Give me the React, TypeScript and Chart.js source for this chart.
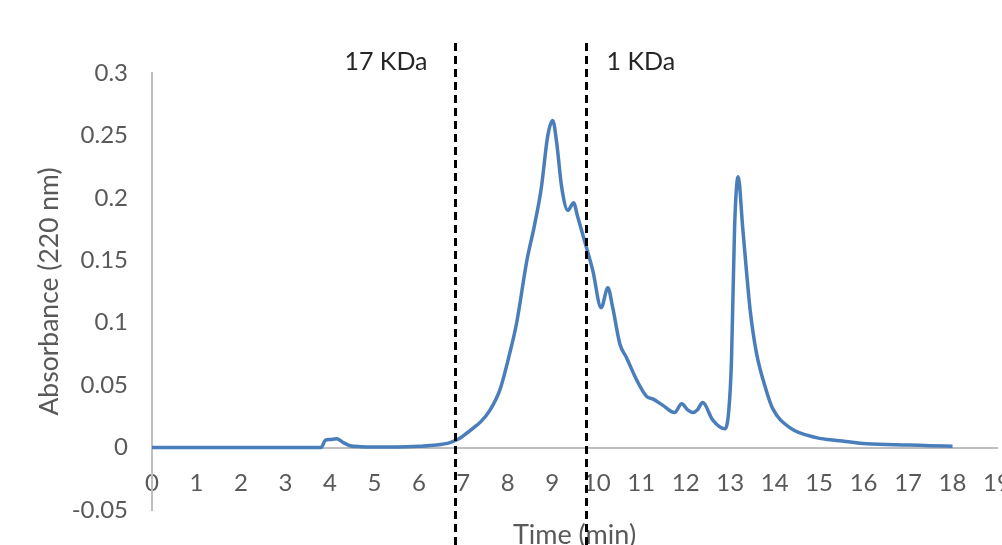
import React, { useEffect, useRef } from "react";
import { Chart, registerables } from "chart.js";

Chart.register(...registerables);

// Chromatogram data (time in min, absorbance at 220 nm)
const times = [
  0, 1, 2, 3, 3.8, 3.9, 4.0, 4.15, 4.3, 4.45, 4.7, 5.0, 5.5, 6.0, 6.4, 6.7, 6.9,
  7.15, 7.4, 7.6, 7.82, 8.04, 8.2, 8.43, 8.6, 8.75, 8.9, 9.01, 9.1, 9.21,
  9.35, 9.48, 9.57, 9.77, 9.91, 10.1, 10.25, 10.36, 10.52, 10.67, 10.9, 11.12,
  11.26, 11.48, 11.75, 11.91, 12.05, 12.16, 12.26, 12.38, 12.61, 12.88, 12.97,
  13.03, 13.1, 13.18, 13.28, 13.37, 13.45, 13.59, 13.81, 13.96, 14.34, 14.94,
  15.46, 16.07, 17.03, 17.5, 18.0,
];
const absorbance = [
  0, 0, 0, 0, 0, 0.006, 0.0065, 0.007, 0.004, 0.0015, 0.0007, 0.0005, 0.0005,
  0.001, 0.002, 0.004, 0.007, 0.0136, 0.021, 0.03, 0.046, 0.075, 0.1, 0.15,
  0.178, 0.207, 0.25, 0.262, 0.244, 0.209, 0.19, 0.196, 0.185, 0.16, 0.142,
  0.112, 0.128, 0.112, 0.083, 0.072, 0.054, 0.041, 0.039, 0.034, 0.028, 0.035,
  0.03, 0.028, 0.03, 0.036, 0.022, 0.015, 0.03, 0.07, 0.177, 0.217, 0.177,
  0.14, 0.11, 0.076, 0.046, 0.031, 0.016, 0.008, 0.0055, 0.003, 0.002, 0.0015,
  0.001,
];

// Molecular-weight cut-off markers
const markerTimes = [6.81, 9.75];
const markerLabels = ["17 KDa", "1 KDa"];
const markerSides = ["left", "right"];

// Axis settings
const xMin = 0;
const xMax = 19;
const yMin = -0.05;
const yMax = 0.3;
const yStep = 0.05;

const FONT = "Lato, 'Open Sans', sans-serif";

const markerPlugin = {
  id: "markers",
  afterDatasetsDraw(chart: any) {
    const { ctx } = chart;
    const xs = chart.scales.x;
    ctx.save();
    markerTimes.forEach((t, i) => {
      const px = Math.round(xs.getPixelForValue(t)) + 0.5;
      ctx.beginPath();
      ctx.setLineDash([8, 5]);
      ctx.lineWidth = 3;
      ctx.strokeStyle = "#000000";
      ctx.moveTo(px, 43);
      ctx.lineTo(px, chart.height);
      ctx.stroke();
      ctx.setLineDash([]);
      ctx.font = `25px ${FONT}`;
      ctx.fillStyle = "#262626";
      ctx.textBaseline = "middle";
      if (markerSides[i] === "left") {
        ctx.textAlign = "right";
        ctx.fillText(markerLabels[i], px - 28, 62);
      } else {
        ctx.textAlign = "left";
        ctx.fillText(markerLabels[i], px + 20, 62);
      }
    });
    ctx.restore();
  },
};

export default function App() {
  const ref = useRef<HTMLCanvasElement>(null);
  useEffect(() => {
    document.body.style.margin = "0";
    const canvas = ref.current!;
    const chart = new Chart(canvas, {
      type: "line",
      data: {
        datasets: [
          {
            data: times.map((t, i) => ({ x: t, y: absorbance[i] })),
            borderColor: "#4a7ebb",
            borderWidth: 3.5,
            pointRadius: 0,
            fill: false,
            cubicInterpolationMode: "monotone",
          },
        ],
      },
      options: {
        responsive: false,
        animation: false,
        layout: { padding: { left: 30, top: 73, right: 5, bottom: 35 } },
        plugins: { legend: { display: false }, tooltip: { enabled: false } },
        scales: {
          x: {
            type: "linear",
            position: { y: 0 } as any,
            min: xMin,
            max: xMax,
            grid: { display: false, drawTicks: false },
            border: { display: true, color: "#bfbfbf", width: 2 },
            ticks: {
              stepSize: 1,
              padding: 21,
              color: "#595959",
              font: { family: FONT, size: 24 },
              maxRotation: 0,
              autoSkip: false,
            },
            title: {
              display: true,
              text: "Time (min)",
              color: "#595959",
              font: { family: FONT, size: 27 },
              padding: { top: 4, bottom: 0 },
            },
            afterFit(scale: any) {
              scale.paddingLeft = 0;
              scale.paddingRight = 0;
              scale.paddingTop = 0;
              scale.paddingBottom = 0;
              scale.height = scale.height - 3;
            },
          },
          y: {
            type: "linear",
            position: "left",
            min: yMin,
            max: yMax,
            grid: { display: false, drawTicks: false },
            border: { display: true, color: "#bfbfbf", width: 2 },
            ticks: {
              stepSize: yStep,
              padding: 24,
              color: "#595959",
              font: { family: FONT, size: 24 },
              callback: (v: any) => String(+Number(v).toFixed(2)),
            },
            title: {
              display: true,
              text: "Absorbance (220 nm)",
              color: "#595959",
              font: { family: FONT, size: 26.5 },
            },
            afterFit(scale: any) {
              scale.width = 122;
              scale.paddingTop = 0;
              scale.paddingBottom = 0;
            },
          },
        },
      },
      plugins: [markerPlugin],
    });
    return () => chart.destroy();
  }, []);
  return (
    <div style={{ width: 1002, height: 545 }}>
      <canvas ref={ref} width={1002} height={545} style={{ display: "block" }} />
    </div>
  );
}
